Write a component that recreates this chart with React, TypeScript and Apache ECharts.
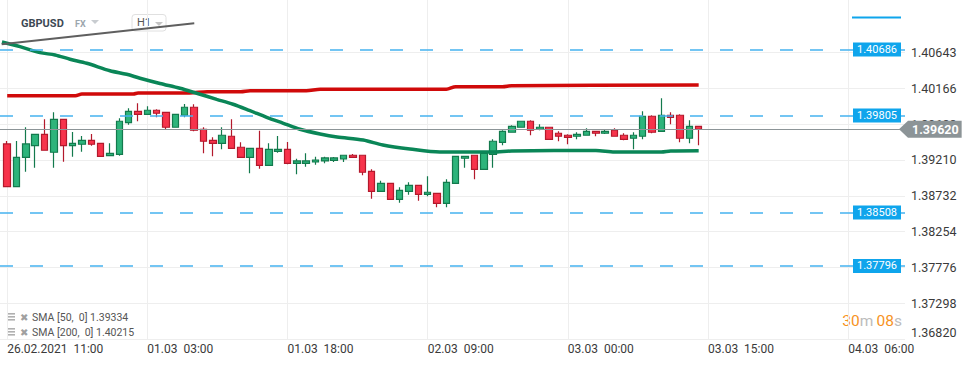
import { useEffect, useRef } from 'react';
import * as echarts from 'echarts';

// x-axis tick labels (one every 15 hourly candles, starting at candle 0)
const tickLabels = [
  '26.02.2021  11:00',
  '01.03  03:00',
  '01.03  18:00',
  '02.03  09:00',
  '03.03  00:00',
  '03.03  15:00',
  '04.03  06:00',
];
const tickPositions = [0, 15, 30, 45, 60, 75, 90];

// y-axis tick labels, bottom to top
const yTickLabels = ['1.36820', '1.37298', '1.37776', '1.38254', '1.38732', '1.39210', '1.39688', '1.40166', '1.40643'];

// hourly candle index (trading hours only)
const candleIndex = [
  0, 1, 2, 3, 4, 5, 6, 7, 8, 9, 10, 11, 12, 13, 14, 15, 16, 17, 18, 19, 20, 21, 22, 23, 24,
  25, 26, 27, 28, 29, 30, 31, 32, 33, 34, 35, 36, 37, 38, 39, 40, 41, 42, 43, 44, 45, 46, 47, 48, 49,
  50, 51, 52, 53, 54, 55, 56, 57, 58, 59, 60, 61, 62, 63, 64, 65, 66, 67, 68, 69, 70, 71, 72, 73, 74,
];

const opens = [
  1.39424, 1.38854, 1.39246, 1.39401, 1.39553, 1.39313, 1.39753, 1.39401, 1.3942, 1.39473,
  1.39433, 1.39267, 1.39286, 1.39708, 1.3986, 1.3982, 1.39874, 1.39847, 1.39647, 1.39807,
  1.39914, 1.3962, 1.39473, 1.39433, 1.39527, 1.3938, 1.39246, 1.39366, 1.39139, 1.39326,
  1.39353, 1.39166, 1.39166, 1.39183, 1.39197, 1.39206, 1.39223, 1.39273, 1.39273, 1.39059,
  1.38792, 1.38899, 1.38685, 1.38792, 1.38872, 1.38752, 1.38765, 1.38632, 1.38899, 1.39233,
  1.39273, 1.39086, 1.39286, 1.39446, 1.3958, 1.39647, 1.39727, 1.3962, 1.39647, 1.39567,
  1.3954, 1.39527, 1.3954, 1.39593, 1.39567, 1.39607, 1.3954, 1.395, 1.39527, 1.39794,
  1.39593, 1.39807, 1.39807, 1.395, 1.3966,
];
const closes = [
  1.38854, 1.39246, 1.39424, 1.39553, 1.3934, 1.39753, 1.39401, 1.39433, 1.39473, 1.3942,
  1.39259, 1.39299, 1.39727, 1.3986, 1.3982, 1.39874, 1.39834, 1.39647, 1.3982, 1.39914,
  1.39607, 1.3946, 1.39433, 1.3954, 1.39366, 1.39246, 1.39366, 1.39139, 1.39353, 1.39353,
  1.39166, 1.39197, 1.39197, 1.3921, 1.39237, 1.39237, 1.39273, 1.39246, 1.39046, 1.38792,
  1.38899, 1.38685, 1.38805, 1.38872, 1.38752, 1.38779, 1.38632, 1.38912, 1.39259, 1.39259,
  1.39086, 1.39299, 1.3946, 1.39593, 1.3966, 1.39727, 1.39607, 1.39647, 1.39486, 1.39527,
  1.39513, 1.39553, 1.39593, 1.39567, 1.39593, 1.39527, 1.39486, 1.3954, 1.39794, 1.3958,
  1.39807, 1.3978, 1.395, 1.3966, 1.3962,
];
const lows = [
  1.3885, 1.3885, 1.39054, 1.39107, 1.39335, 1.39107, 1.39187, 1.39254, 1.39321, 1.39401,
  1.39255, 1.39262, 1.39267, 1.39681, 1.39727, 1.39815, 1.3978, 1.3962, 1.39645, 1.3978,
  1.39593, 1.39299, 1.39259, 1.39353, 1.39362, 1.39242, 1.39032, 1.39094, 1.39135, 1.39307,
  1.39153, 1.39019, 1.39121, 1.39147, 1.39166, 1.39183, 1.39183, 1.39242, 1.39006, 1.38693,
  1.38788, 1.38682, 1.3864, 1.38747, 1.38667, 1.38725, 1.38579, 1.38579, 1.38895, 1.39107,
  1.38952, 1.39082, 1.39107, 1.39406, 1.39576, 1.39644, 1.3954, 1.39607, 1.39482, 1.3946,
  1.3942, 1.39486, 1.39536, 1.39527, 1.39557, 1.39524, 1.39473, 1.39353, 1.39486, 1.39567,
  1.3959, 1.39687, 1.39446, 1.39433, 1.39406,
];
const highs = [
  1.39464, 1.39464, 1.39647, 1.3956, 1.39753, 1.39847, 1.3976, 1.39584, 1.3953, 1.39557,
  1.39436, 1.39433, 1.39767, 1.399, 1.39967, 1.39927, 1.39887, 1.3985, 1.39822, 1.39958,
  1.39954, 1.39647, 1.39513, 1.39647, 1.39753, 1.39446, 1.3937, 1.39601, 1.39433, 1.3953,
  1.3945, 1.39227, 1.39299, 1.39254, 1.39254, 1.3925, 1.39276, 1.3929, 1.39276, 1.39086,
  1.38934, 1.38907, 1.38846, 1.38912, 1.38876, 1.38992, 1.3877, 1.38952, 1.39262, 1.39262,
  1.39276, 1.39302, 1.39486, 1.39607, 1.39673, 1.3973, 1.3974, 1.39687, 1.3965, 1.39593,
  1.39553, 1.3958, 1.39633, 1.39596, 1.3962, 1.39633, 1.39567, 1.3958, 1.3986, 1.39807,
  1.40034, 1.39847, 1.3982, 1.3974, 1.39664,
];

// SMA 50 (green) read at points along the line
const sma50Index = [
  -0.56, 1.37, 3.51, 5.12, 6.72, 8.51, 11, 12.79, 14.21, 16.35, 18.49, 20.28, 22.42, 24.17,
  25.98, 27.77, 29.55, 31.33, 33.48, 35.3, 38.1, 40.2, 43.1, 46.3, 52, 54, 63, 65, 70, 71, 74,
];
const sma50Values = [
  1.40786, 1.40723, 1.40643, 1.40612, 1.40555, 1.40501, 1.40402, 1.40354, 1.40301, 1.40231,
  1.40167, 1.40101, 1.4002, 1.39954, 1.39868, 1.3978, 1.397, 1.3962, 1.39557, 1.39517,
  1.39477, 1.3941, 1.39357, 1.39317, 1.39317, 1.3933, 1.39337, 1.39317, 1.39317, 1.3933,
  1.39334,
];

// SMA 200 (red)
const sma200Index = [0, 7.3, 8, 13.5, 14, 19.5, 21.4, 25, 26, 32, 33.5, 47, 48, 53, 54, 74];
const sma200Values = [
  1.40069, 1.40069, 1.40091, 1.40091, 1.40105, 1.40105, 1.40122, 1.40122, 1.40135, 1.40135,
  1.40154, 1.40154, 1.40189, 1.40189, 1.40202, 1.4021,
];

// user-drawn trend line
const trendIndex = [-0.59, 20.02];
const trendValues = [1.40755, 1.41035];

// horizontal price levels
const levels = [1.40686, 1.39805, 1.38508, 1.37796];
const lastPrice = 1.3962;

const legendRows = ['SMA [50,  0] 1.39334', 'SMA [200,  0] 1.40215'];

const Y_MIN = 1.3682;
const Y_MAX = 1.41346;
const Y_STEP = 0.00478;
const X_MIN = -0.77;
const X_MAX = 96.08;

export default function App() {
  const ref = useRef<HTMLDivElement>(null);

  useEffect(() => {
    if (!ref.current) return;
    const chart = echarts.init(ref.current, undefined, { renderer: 'svg' });

    const candleData = candleIndex.map((i, k) => [i, opens[k], closes[k], lows[k], highs[k]]);
    const sma50 = sma50Index.map((x, k) => [x, sma50Values[k]]);
    const sma200 = sma200Index.map((x, k) => [x, sma200Values[k]]);
    const trend = trendIndex.map((x, k) => [x, trendValues[k]]);

    const gridColor = '#eeeeee';
    const none = 'rgba(0,0,0,0)';

    const legendGraphics: any[] = [];
    legendRows.forEach((t, r) => {
      const cy = 317 + r * 15;
      legendGraphics.push(
        { type: 'rect', shape: { x: 7, y: cy - 4, width: 8, height: 1.6 }, style: { fill: '#b0b0b0' } },
        { type: 'rect', shape: { x: 7, y: cy - 1, width: 8, height: 1.6 }, style: { fill: '#b0b0b0' } },
        { type: 'rect', shape: { x: 7, y: cy + 2, width: 8, height: 1.6 }, style: { fill: '#b0b0b0' } },
        {
          type: 'text',
          x: 20,
          y: cy,
          style: { text: '✖', font: '10px "DejaVu Sans"', fill: '#a0a0a0', verticalAlign: 'middle' },
        },
        {
          type: 'text',
          x: 32,
          y: cy + 0.5,
          style: { text: t, font: '10.5px Roboto', fill: '#555555', verticalAlign: 'middle' },
        }
      );
    });

    const option: any = {
      animation: false,
      backgroundColor: '#ffffff',
      textStyle: { fontFamily: 'Roboto' },
      grid: { left: 0, right: 65, top: 0, bottom: 26 },
      xAxis: {
        type: 'value',
        min: X_MIN,
        max: X_MAX,
        axisLine: { show: false },
        axisTick: { show: false, customValues: tickPositions },
        axisLabel: {
          customValues: tickPositions,
          align: 'left',
          margin: 4,
          fontSize: 12,
          color: '#3a3a3a',
          formatter: (v: number) => {
            const k = tickPositions.indexOf(Math.round(v));
            return k >= 0 ? tickLabels[k] : '';
          },
        },
        splitLine: {
          show: true,
          lineStyle: { color: gridColor, width: 1 },
        },
      },
      yAxis: {
        type: 'value',
        position: 'right',
        min: Y_MIN,
        max: Y_MAX,
        interval: Y_STEP,
        axisLine: { show: false },
        axisTick: { show: false },
        axisLabel: {
          margin: 6,
          fontSize: 12.5,
          color: '#3a3a3a',
          verticalAlignMinLabel: 'bottom',
          formatter: (v: number) => {
            const k = Math.round((v - Y_MIN) / Y_STEP);
            return Math.abs(v - (Y_MIN + k * Y_STEP)) < 1e-7 && k < yTickLabels.length ? yTickLabels[k] : '';
          },
        },
        splitLine: {
          show: true,
          lineStyle: {
            color: [gridColor, gridColor, gridColor, gridColor, gridColor, gridColor, gridColor, gridColor, gridColor, none, none],
            width: 1,
          },
        },
      },
      series: [
        {
          type: 'candlestick',
          data: candleData,
          barWidth: 7,
          clip: false,
          z: 2,
          itemStyle: {
            color: '#2db47b',
            color0: '#f7334b',
            borderColor: '#137a4d',
            borderColor0: '#b3192c',
            borderWidth: 1.2,
          },
          markLine: {
            silent: true,
            symbol: ['none', 'none'],
            precision: 5,
            data: [
              ...levels.map((v) => ({
                yAxis: v,
                lineStyle: { color: '#45b3f0', type: [13, 17], width: 1.5 },
                label: {
                  show: true,
                  position: 'insideEnd',
                  distance: 4,
                  formatter: v.toFixed(5),
                  backgroundColor: '#0fa5ec',
                  color: '#ffffff',
                  fontSize: 11,
                  padding: [2, 4, 1, 4],
                },
              })),
              {
                yAxis: lastPrice,
                lineStyle: { color: '#8c9497', type: 'solid', width: 1 },
                label: {
                  show: true,
                  position: 'end',
                  distance: 3,
                  formatter: lastPrice.toFixed(5),
                  backgroundColor: '#8c9497',
                  color: '#ffffff',
                  fontWeight: 'bold',
                  fontSize: 12.5,
                  padding: [2, 3, 2, 4],
                },
              },
            ],
          },
          markPoint: {
            silent: true,
            data: [
              {
                coord: [95.92, lastPrice],
                symbol: 'triangle',
                symbolSize: [17, 9],
                symbolRotate: 90,
                itemStyle: { color: '#8c9497' },
                label: { show: false },
              },
            ],
          },
        },
        {
          type: 'line',
          data: sma200,
          symbol: 'none',
          smooth: 0.3,
          z: 3,
          lineStyle: { color: '#d00a0a', width: 3.5 },
        },
        {
          type: 'line',
          data: sma50,
          symbol: 'none',
          smooth: 0.3,
          z: 3,
          lineStyle: { color: '#0a8657', width: 3.5 },
        },
        {
          type: 'line',
          data: trend,
          symbol: 'none',
          z: 4,
          lineStyle: { color: '#5f5f5f', width: 2 },
        },
      ],
      graphic: [
        { type: 'text', x: 21, y: 23, style: { text: 'GBPUSD', font: 'bold 11px Roboto', fill: '#3d4954', verticalAlign: 'middle' } },
        { type: 'text', x: 75, y: 24, style: { text: 'FX', font: 'bold 9px Roboto', fill: '#9ca6ad', verticalAlign: 'middle' } },
        { type: 'polygon', shape: { points: [[91, 20], [99, 20], [95, 24]] }, style: { fill: '#c8ccd0' } },
        { type: 'rect', shape: { x: 132, y: 14.5, width: 34, height: 16.5, r: 3 }, style: { fill: 'none', stroke: '#e0e0e0', lineWidth: 1 } },
        { type: 'text', x: 137, y: 22.5, style: { text: 'H1', font: '11px Roboto', fill: '#555555', verticalAlign: 'middle' } },
        { type: 'polygon', shape: { points: [[155, 22], [163, 22], [159, 26]] }, style: { fill: '#c4c4c4' } },
        { type: 'line', shape: { x1: 852, y1: 17.5, x2: 901, y2: 17.5 }, style: { stroke: '#0fa5ec', lineWidth: 2 } },
        ...legendGraphics,
        {
          type: 'text',
          x: 902,
          y: 321,
          style: {
            text: '{o|30}{g|m} {o|08}{g|s}',
            align: 'right',
            verticalAlign: 'middle',
            rich: {
              o: { fill: '#f7931e', color: '#f7931e', fontSize: 15.5, fontFamily: 'Roboto' },
              g: { fill: '#bcbcbc', color: '#bcbcbc', fontSize: 15.5, fontFamily: 'Roboto' },
            },
          },
        },
      ],
    };

    chart.setOption(option);
    return () => chart.dispose();
  }, []);

  return (
    <div
      ref={ref}
      style={{ position: 'fixed', left: 0, top: 0, width: 970, height: 365, background: '#fff' }}
    />
  );
}
